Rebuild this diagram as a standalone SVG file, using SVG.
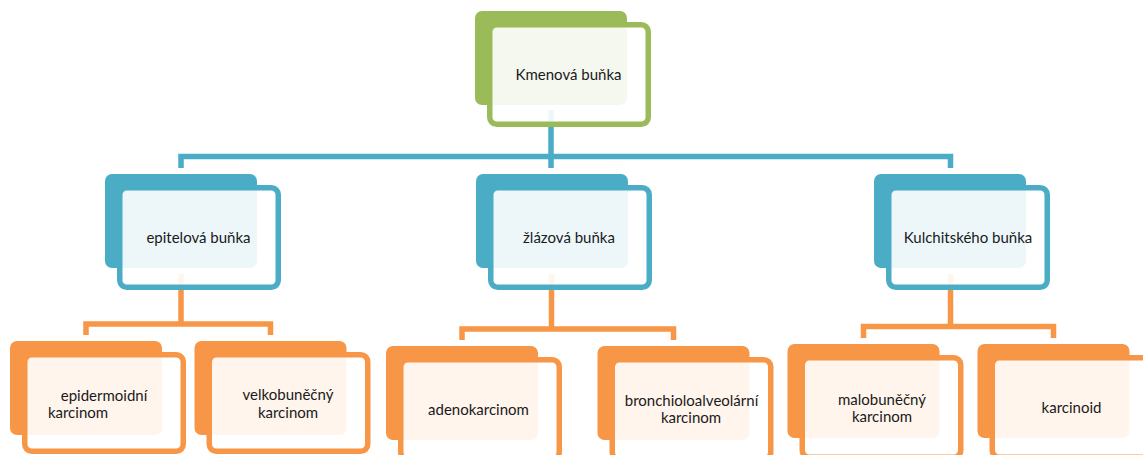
<svg xmlns="http://www.w3.org/2000/svg" width="1143" height="455" viewBox="0 0 1143 455">
<style>
.bk{stroke:none}
.fr{fill:#ffffff;fill-opacity:0.9;stroke-width:5.5}
.g .bk{fill:#9bbb59}.g .fr{stroke:#9bbb59}
.b .bk{fill:#4bacc6}.b .fr{stroke:#4bacc6}
.o .bk{fill:#f79646}.o .fr{stroke:#f79646}
.cb{fill:none;stroke:#4bacc6;stroke-width:5.5}
.co{fill:none;stroke:#f79646;stroke-width:5.5}
text{font-family:Lato,"Open Sans","Liberation Sans",sans-serif;font-size:15px;fill:#1a1a1a;text-anchor:middle}
</style>
<rect width="1143" height="455" fill="#ffffff"/>
<g id="connectors">
<path class="cb" d="M551 110V156.5M181 168V156.5H950.5V168M551 156.5V168"/>
<path class="co" d="M181 274V324M86 335V324H270.5V335"/>
<path class="co" d="M551.5 274V329M462 340V329H673.5V340"/>
<path class="co" d="M950.5 274V326.5M863.5 338V326.5H1053.5V338"/>
</g>
<g id="kmenova" class="g">
<rect class="bk" x="475" y="11" width="152" height="94" rx="7"/>
<rect class="fr" x="489.75" y="24.75" width="158.5" height="99.5" rx="7"/>
<text x="568.5" y="80">Kmenová buňka</text>
</g>
<g id="epitelova" class="b">
<rect class="bk" x="105" y="174" width="152" height="94" rx="7"/>
<rect class="fr" x="119.75" y="187.75" width="158.5" height="99.5" rx="7"/>
<text x="198.5" y="243">epitelová buňka</text>
</g>
<g id="zlazova" class="b">
<rect class="bk" x="476" y="174" width="152" height="94" rx="7"/>
<rect class="fr" x="490.75" y="187.75" width="158.5" height="99.5" rx="7"/>
<text x="569" y="243">žlázová buňka</text>
</g>
<g id="kulchitskeho" class="b">
<rect class="bk" x="874" y="174" width="152" height="94" rx="7"/>
<rect class="fr" x="888.75" y="187.75" width="158.5" height="99.5" rx="7"/>
<text x="968" y="243">Kulchitského buňka</text>
</g>
<g id="epidermoidni" class="o">
<rect class="bk" x="10" y="341" width="152" height="94" rx="7"/>
<rect class="fr" x="24.75" y="354.75" width="158.5" height="96.5" rx="7"/>
<text x="104" y="401">epidermoidní</text>
<text x="78" y="418">karcinom</text>
</g>
<g id="velkobunecny" class="o">
<rect class="bk" x="194.5" y="341" width="152" height="94" rx="7"/>
<rect class="fr" x="209.25" y="354.75" width="158.5" height="96.5" rx="7"/>
<text x="288" y="400">velkobuněčný</text>
<text x="288" y="418">karcinom</text>
</g>
<g id="adenokarcinom" class="o">
<rect class="bk" x="386" y="346" width="152" height="94" rx="7"/>
<rect class="fr" x="400.75" y="359.75" width="158.5" height="99.5" rx="7"/>
<text x="478.5" y="415">adenokarcinom</text>
</g>
<g id="bronchioloalveolarni" class="o">
<rect class="bk" x="597.5" y="346" width="152" height="94" rx="7"/>
<rect class="fr" x="612.25" y="359.75" width="158.5" height="99.5" rx="7"/>
<text x="691.5" y="406">bronchioloalveolární</text>
<text x="691" y="423">karcinom</text>
</g>
<g id="malobunecny" class="o">
<rect class="bk" x="787.5" y="344" width="152" height="94" rx="7"/>
<rect class="fr" x="802.25" y="357.75" width="158.5" height="99.5" rx="7"/>
<text x="882" y="405">malobuněčný</text>
<text x="882" y="422">karcinom</text>
</g>
<g id="karcinoid" class="o">
<rect class="bk" x="977.5" y="344" width="152" height="94" rx="7"/>
<rect class="fr" x="992.25" y="357.75" width="158.5" height="99.5" rx="7"/>
<text x="1071.5" y="413">karcinoid</text>
</g>
</svg>
